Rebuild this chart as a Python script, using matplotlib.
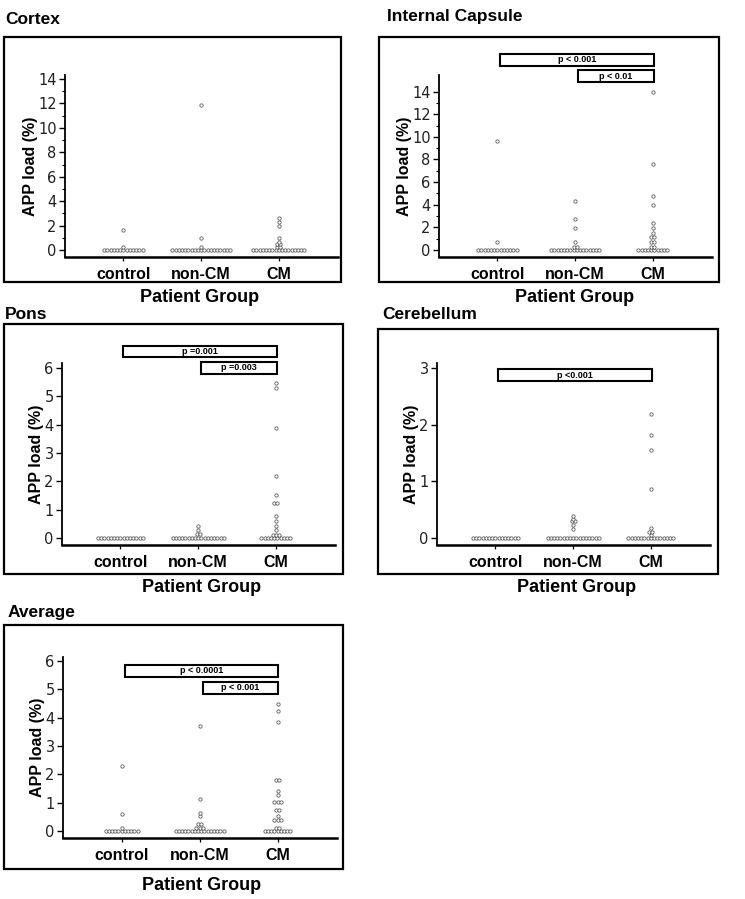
import matplotlib
matplotlib.use("Agg")
import matplotlib.pyplot as plt
from matplotlib.patches import Rectangle
import numpy as np
from collections import Counter

W, H = 745, 899

# ---------------- data ----------------
groups = ["control", "non-CM", "CM"]

cortex_control = [0, 0, 0, 0, 0, 0, 0, 0, 0, 0, 0, 0, 0, 0.27, 1.64]
cortex_noncm = [0, 0, 0, 0, 0, 0, 0, 0, 0, 0, 0, 0, 0, 0, 0, 0, 0, 0, 0, 0.27, 0.96, 11.85]
cortex_cm = [0, 0, 0, 0, 0, 0, 0, 0, 0, 0, 0, 0, 0, 0, 0, 0, 0,
             0.27, 0.27, 0.5, 0.5, 0.63, 0.98, 2.0, 2.32, 2.65]

ic_control = [0, 0, 0, 0, 0, 0, 0, 0, 0, 0, 0, 0, 0, 0.72, 9.6]
ic_noncm = [0, 0, 0, 0, 0, 0, 0, 0, 0, 0, 0, 0, 0, 0, 0, 0,
            0.3, 0.3, 0.72, 1.95, 2.74, 4.33]
ic_cm = [0, 0, 0, 0, 0, 0, 0, 0, 0, 0,
         0.3, 0.3, 0.71, 0.71, 1.12, 1.12, 1.53, 1.95, 2.36, 3.98, 4.74, 7.6, 14.0]

pons_control = [0, 0, 0, 0, 0, 0, 0, 0, 0, 0, 0, 0, 0, 0, 0]
pons_noncm = [0, 0, 0, 0, 0, 0, 0, 0, 0, 0, 0, 0, 0, 0, 0, 0, 0,
              0.13, 0.13, 0.28, 0.43]
pons_cm = [0, 0, 0, 0, 0, 0, 0, 0, 0, 0,
           0.12, 0.12, 0.12, 0.27, 0.43, 0.6, 0.77, 1.22, 1.22, 1.52, 2.18, 3.89, 5.3, 5.49]

cereb_control = [0, 0, 0, 0, 0, 0, 0, 0, 0, 0, 0, 0, 0, 0, 0]
cereb_noncm = [0, 0, 0, 0, 0, 0, 0, 0, 0, 0, 0, 0, 0, 0, 0, 0, 0,
               0.16, 0.23, 0.3, 0.3, 0.33, 0.38]
cereb_cm = [0, 0, 0, 0, 0, 0, 0, 0, 0, 0, 0, 0, 0, 0, 0,
            0.05, 0.11, 0.11, 0.17, 0.86, 1.55, 1.81, 2.19]

avg_control = [0, 0, 0, 0, 0, 0, 0, 0, 0, 0, 0, 0.09, 0.61, 2.29]
avg_noncm = [0, 0, 0, 0, 0, 0, 0, 0, 0, 0, 0, 0, 0, 0, 0, 0,
             0.09, 0.09, 0.09, 0.24, 0.24, 0.51, 0.64, 1.13, 3.72]
avg_cm = [0, 0, 0, 0, 0, 0, 0, 0, 0,
          0.09, 0.09, 0.38, 0.38, 0.38, 0.51, 0.75, 0.75, 1.01, 1.01, 1.01,
          1.27, 1.4, 1.79, 1.79, 3.85, 4.24, 4.49]

titles = ["Cortex", "Internal Capsule", "Pons", "Cerebellum", "Average"]
yticks_cortex = [0, 2, 4, 6, 8, 10, 12, 14]
yticks_ic = [0, 2, 4, 6, 8, 10, 12, 14]
yticks_pons = [0, 1, 2, 3, 4, 5, 6]
yticks_cereb = [0, 1, 2, 3]
yticks_avg = [0, 1, 2, 3, 4, 5, 6]

# p-value annotations: (label, start group index, end group index)
p_ic = [("p < 0.001", 1, 3), ("p < 0.01", 2, 3)]
p_pons = [("p =0.001", 1, 3), ("p =0.003", 2, 3)]
p_cereb = [("p <0.001", 1, 3)]
p_avg = [("p < 0.0001", 1, 3), ("p < 0.001", 2, 3)]

# ---------------- style / layout ----------------
BOLD = "Liberation Sans"
fig = plt.figure(figsize=(W / 100, H / 100), dpi=100)


def px_axes(l, t, r, b):
    return fig.add_axes([l / W, 1 - b / H, (r - l) / W, (b - t) / H])


def frame(l, t, r, b):
    fig.patches.append(Rectangle((l / W, 1 - b / H), (r - l) / W, (b - t) / H,
                                 transform=fig.transFigure, fill=False,
                                 lw=1.6, ec="black", zorder=0))


def ftext(x, y, s, **kw):
    fig.text(x / W, 1 - y / H, s, **kw)


def dotplot(ax, x0, vals, d=3.2):
    """Equal values side by side, each row centred on the group position."""
    tr = ax.transData
    xs, ys = [], []
    for v, n in sorted(Counter(vals).items()):
        px, py = tr.transform((x0, v))
        for i in range(n):
            cx = px + (i - (n - 1) / 2) * d
            dx, dy = tr.inverted().transform((cx, py))
            xs.append(dx)
            ys.append(v)
    ax.plot(xs, ys, "o", ms=2.4, mfc="white", mec="#5e5e5e",
            mew=0.6, clip_on=False, zorder=3)


panels = [
    dict(title=titles[0], data=[cortex_control, cortex_noncm, cortex_cm],
         ax=(65, 75, 338, 257), ylim=(-0.57, 14.33), yt=yticks_cortex, minor=True,
         fr=(4, 37, 341, 282), tpos=(5, 20), xl=(200, 298), pv=[], pvy=[]),
    dict(title=titles[1], data=[ic_control, ic_noncm, ic_cm],
         ax=(439, 75, 712, 257), ylim=(-0.62, 15.47), yt=yticks_ic, minor=True,
         fr=(379, 37, 719, 282), tpos=(387, 17), xl=(575, 298),
         pv=p_ic, pvy=[(16.3, 17.35), (14.85, 15.9)]),
    dict(title=titles[2], data=[pons_control, pons_noncm, pons_cm],
         ax=(62, 363, 335, 545), ylim=(-0.25, 6.18), yt=yticks_pons, minor=False,
         fr=(4, 324, 343, 574), tpos=(5, 315), xl=(202, 588),
         pv=p_pons, pvy=[(6.38, 6.78), (5.79, 6.22)]),
    dict(title=titles[3], data=[cereb_control, cereb_noncm, cereb_cm],
         ax=(437, 363, 710, 545), ylim=(-0.124, 3.09), yt=yticks_cereb, minor=False,
         fr=(378, 329, 718, 574), tpos=(382, 315), xl=(577, 588),
         pv=p_cereb, pvy=[(2.77, 2.98)]),
    dict(title=titles[4], data=[avg_control, avg_noncm, avg_cm],
         ax=(63, 657, 337, 838), ylim=(-0.25, 6.14), yt=yticks_avg, minor=False,
         fr=(4, 625, 343, 869), tpos=(8, 612), xl=(202, 885),
         pv=p_avg, pvy=[(5.45, 5.86), (4.84, 5.27)]),
]

for p in panels:
    frame(*p["fr"])
    ftext(p["tpos"][0], p["tpos"][1], p["title"], family=BOLD, weight="bold",
          fontsize=12.5, ha="left", va="center")
    ftext(p["xl"][0], p["xl"][1], "Patient Group", family=BOLD, weight="bold",
          fontsize=13, ha="center", va="center")
    ax = px_axes(*p["ax"])
    ax.set_xlim(0.25, 3.76)
    ax.set_ylim(*p["ylim"])
    ax.patch.set_alpha(0)
    for s in ["top", "right"]:
        ax.spines[s].set_visible(False)
    ax.spines["left"].set_linewidth(1.3)
    ax.spines["bottom"].set_linewidth(1.8)
    ax.set_xticks([1, 2, 3])
    ax.set_xticklabels(groups, family=BOLD, weight="bold", fontsize=11.5)
    ax.set_yticks(p["yt"])
    ax.set_yticklabels([str(v) for v in p["yt"]], family="DejaVu Sans",
                       fontsize=10.5, color="#222222")
    if p["minor"]:
        ax.set_yticks([v + 1 for v in p["yt"][:-1]], minor=True)
        ax.tick_params(axis="y", which="minor", length=2.5, width=0.8)
    ax.tick_params(axis="y", which="major", length=4, width=1.0, pad=2)
    ax.tick_params(axis="x", length=3, width=0.9, pad=4)
    ax.set_ylabel("APP load (%)", family=BOLD, weight="bold", fontsize=11.5,
                  labelpad=0)
    for i, vals in enumerate(p["data"]):
        dotplot(ax, i + 1, vals)
    for (lab, a, b), (y0, y1) in zip(p["pv"], p["pvy"]):
        ax.add_patch(Rectangle((a + 0.04, y0), (b - a) - 0.03, y1 - y0,
                               fill=True, fc="white", ec="black", lw=1.5,
                               clip_on=False, zorder=4))
        ax.text((a + 0.04 + b + 0.01) / 2, (y0 + y1) / 2, lab, family=BOLD,
                weight="bold", fontsize=6.5, ha="center", va="center",
                clip_on=False, zorder=5)

fig.savefig("out.png", dpi=100)
